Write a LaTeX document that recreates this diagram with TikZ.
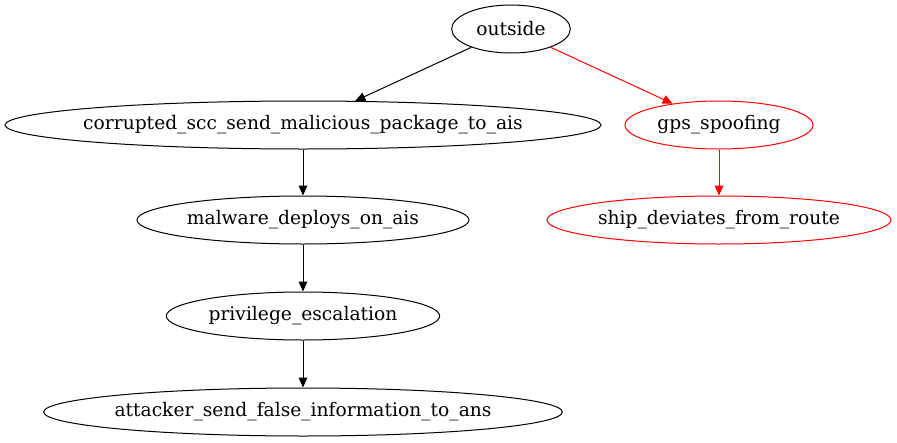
\documentclass[tikz,border=0pt]{standalone}
\usepackage{fontspec}
\setmainfont{DejaVu Serif}
\usetikzlibrary{shapes.geometric,arrows.meta}

\tikzset{
    state/.style={draw, ellipse, inner xsep=-20pt, inner ysep=0pt, minimum height=36pt, line width=0.75pt, font=\fontsize{14pt}{16pt}\selectfont},
    attack/.style={state, draw=red},
    flow/.style={-{Triangle[length=7.5pt,width=6.5pt]}, line width=0.75pt},
}

\begin{document}
\begin{tikzpicture}[x=0.75pt, y=-0.75pt]
    \useasboundingbox (0,0) rectangle (897,443);
    % Top
    \node[state, minimum width=89pt] (outside) at (511,29) {outside};

    % Left branch
    \node[state, minimum width=447pt] (corrupted) at (303,125) {corrupted\_scc\_send\_malicious\_package\_to\_ais};
    \node[state, minimum width=249pt] (malware) at (303,220) {malware\_deploys\_on\_ais};
    \node[state, minimum width=205pt] (privilege) at (303,316) {privilege\_escalation};
    \node[state, minimum width=389pt] (attacker) at (303,412) {attacker\_send\_false\_information\_to\_ans};

    % Right branch
    \node[attack, minimum width=141pt] (gps) at (719,125) {gps\_spoofing};
    \node[attack, minimum width=258pt] (ship) at (719,220) {ship\_deviates\_from\_route};

    \draw[flow] (outside) -- (corrupted);
    \draw[flow] (corrupted) -- (malware);
    \draw[flow] (malware) -- (privilege);
    \draw[flow] (privilege) -- (attacker);
    \draw[flow, red] (outside) -- (gps);
    \draw[flow, red] (gps) -- (ship);
\end{tikzpicture}
\end{document}
